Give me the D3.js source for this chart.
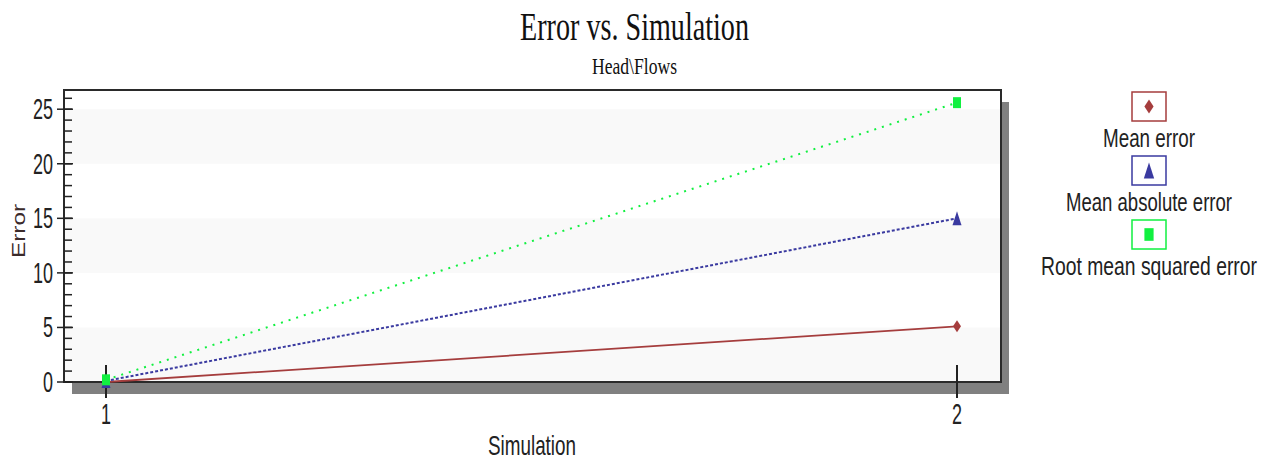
<!DOCTYPE html>
<html>
<head>
<meta charset="utf-8">
<script src="https://cdn.jsdelivr.net/npm/d3@7"></script>
<style>
  body { margin: 0; background: #fff; }
  text { font-family: "Liberation Sans", Arial, sans-serif; fill: #222; }
</style>
</head>
<body>
<svg id="chart" width="1274" height="461"></svg>
<script>
// data
var simulations = [1, 2];
var meanError = [0.0, 5.1];
var meanAbsError = [0.1, 15.0];
var rmsError = [0.2, 25.6];
var seriesNames = ["Mean error", "Mean absolute error", "Root mean squared error"];
var yMajorTicks = [0, 5, 10, 15, 20, 25];
var yMinorTicks = d3.range(0, 27, 1);
var xTickLabels = ["1", "2"];
var bands = [[0, 5], [10, 15], [20, 25]];

var svg = d3.select("#chart");

// plot box (don't call it "top", window.top is read-only)
var boxL = 64, boxT = 90, boxR = 1001, boxB = 382;

var x = d3.scaleLinear().domain([1, 2]).range([106, 957]);
var y = d3.scaleLinear().domain([0, 26.76]).range([boxB, boxT]);

// squeezed text helper (picture is stretched vertically)
function txt(g, s, px, len, fam) {
  var t = g.append("text").text(s).style("font-size", px + "px");
  if (fam) t.style("font-family", fam);
  if (len) t.attr("textLength", len).attr("lengthAdjust", "spacingAndGlyphs");
  return t;
}

// title
txt(svg, "Error vs. Simulation", 40, 229, "'Liberation Serif', 'Times New Roman', serif")
  .attr("x", 634.5).attr("y", 39.5).attr("text-anchor", "middle").style("fill", "#111");
txt(svg, "Head\\Flows", 23, 85, "'Liberation Serif', 'Times New Roman', serif")
  .attr("x", 634.5).attr("y", 73.5).attr("text-anchor", "middle").style("fill", "#111");

// shadow
svg.append("rect")
  .attr("x", boxL + 8).attr("y", boxT + 12)
  .attr("width", boxR - boxL).attr("height", boxB - boxT)
  .attr("fill", "#808080");

svg.append("rect")
  .attr("x", boxL).attr("y", boxT)
  .attr("width", boxR - boxL).attr("height", boxB - boxT)
  .attr("fill", "#fff");

// alternating bands
svg.selectAll(".band").data(bands).enter().append("rect")
  .attr("class", "band")
  .attr("x", boxL).attr("width", boxR - boxL)
  .attr("y", function(d) { return y(d[1]); })
  .attr("height", function(d) { return y(d[0]) - y(d[1]); })
  .attr("fill", "#f9f9f9");

svg.append("rect")
  .attr("x", boxL).attr("y", boxT)
  .attr("width", boxR - boxL).attr("height", boxB - boxT)
  .attr("fill", "none").attr("stroke", "#2a2a2a").attr("stroke-width", 2);

// y axis ticks
svg.selectAll(".minor").data(yMinorTicks).enter().append("line")
  .attr("x1", boxL).attr("x2", boxL + 8)
  .attr("y1", function(d) { return y(d); }).attr("y2", function(d) { return y(d); })
  .attr("stroke", "#222").attr("stroke-width", 1.5);

svg.selectAll(".major").data(yMajorTicks).enter().append("line")
  .attr("x1", boxL - 7).attr("x2", boxL + 9)
  .attr("y1", function(d) { return y(d); }).attr("y2", function(d) { return y(d); })
  .attr("stroke", "#222").attr("stroke-width", 1.5);

svg.selectAll(".ylab").data(yMajorTicks).enter().append("text")
  .text(function(d) { return d; })
  .attr("x", 53).attr("y", function(d) { return y(d) + 10; })
  .attr("text-anchor", "end")
  .style("font-size", "29px")
  .attr("textLength", function(d) { return String(d).length * 10; })
  .attr("lengthAdjust", "spacingAndGlyphs");

// x ticks
svg.selectAll(".xtick").data(simulations).enter().append("line")
  .attr("x1", function(d) { return x(d); }).attr("x2", function(d) { return x(d); })
  .attr("y1", 365).attr("y2", 398)
  .attr("stroke", "#222").attr("stroke-width", 2);

svg.selectAll(".xlab").data(simulations).enter().append("text")
  .text(function(d, i) { return xTickLabels[i]; })
  .attr("x", function(d) { return x(d); }).attr("y", 424)
  .attr("text-anchor", "middle")
  .style("font-size", "29px")
  .attr("textLength", 10)
  .attr("lengthAdjust", "spacingAndGlyphs");

// axis titles
txt(svg, "Simulation", 28, 88).attr("x", 532).attr("y", 455).attr("text-anchor", "middle");
txt(svg, "Error", 18, 54)
  .attr("text-anchor", "middle")
  .attr("transform", "translate(25,231) rotate(-90)")
  .style("fill", "#3a2a2a");

// series
var series = [
  { name: seriesNames[0], values: meanError, color: "#a53d3d", dash: null, sym: "diamond" },
  { name: seriesNames[1], values: meanAbsError, color: "#3a3aa0", dash: "3,2", sym: "triangle" },
  { name: seriesNames[2], values: rmsError, color: "#11f040", dash: "2,6", sym: "square" }
];

function marker(g, type, color, k) {
  var p;
  if (type == "diamond") p = "M0,-6L4,0L0,6L-4,0Z";
  else if (type == "triangle") p = "M0,-7L4.5,7L-4.5,7Z";
  else p = "M-4,-5.5H4V5.5H-4Z";
  return g.append("path").attr("d", p).attr("fill", color)
    .attr("transform", "scale(" + (k || 1) + ")");
}

var line = d3.line()
  .x(function(d, i) { return x(simulations[i]); })
  .y(function(d) { return y(d); });

series.forEach(function(s) {
  svg.append("path")
    .attr("d", line(s.values))
    .attr("fill", "none")
    .attr("stroke", s.color)
    .attr("stroke-width", s.dash ? 2 : 1.8)
    .attr("stroke-dasharray", s.dash);
});

series.forEach(function(s) {
  s.values.forEach(function(v, i) {
    var g = svg.append("g").attr("transform", "translate(" + x(simulations[i]) + "," + y(v) + ")");
    marker(g, s.sym, s.color);
  });
});

// legend
var legTop = [92, 156, 220];
var legBase = [147, 210.5, 274.5];
var legLen = [92, 166, 216];
series.forEach(function(s, i) {
  svg.append("rect")
    .attr("x", 1132).attr("y", legTop[i])
    .attr("width", 34).attr("height", 29)
    .attr("fill", "#fff").attr("stroke", s.color).attr("stroke-width", 1.5);
  var g = svg.append("g").attr("transform", "translate(1149," + (legTop[i] + 14.5) + ")");
  marker(g, s.sym, s.color, 1.15);
  txt(svg, s.name, 25, legLen[i])
    .attr("x", 1149).attr("y", legBase[i]).attr("text-anchor", "middle");
});
</script>
</body>
</html>
